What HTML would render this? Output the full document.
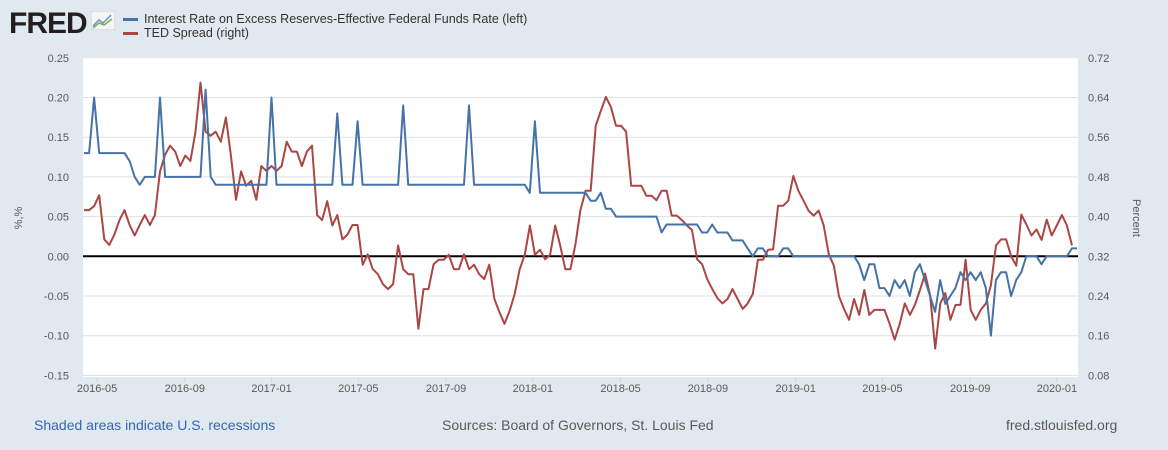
<!DOCTYPE html>
<html><head><meta charset="utf-8"><style>
body{margin:0;width:1168px;height:450px;background:#e1e9f0;font-family:"Liberation Sans",sans-serif;overflow:hidden;position:relative}
.t{position:absolute;color:#595959}
</style></head><body>
<div class="t" style="left:9px;top:7px;font-size:30px;font-weight:bold;color:#231f20;letter-spacing:-1px">FRED</div>
<svg style="position:absolute;left:91px;top:11px" width="24" height="19"><rect width="24" height="19" rx="2" fill="#f3f5f7" stroke="#ccc"/><polyline points="2,15 8,9 12,12 20,4" fill="none" stroke="#6a97c9" stroke-width="1.5"/><polyline points="2,17 8,12 13,14 21,8" fill="none" stroke="#7cb342" stroke-width="1.5"/></svg>
<div style="position:absolute;left:123px;top:12px;font-size:12.5px;color:#333"><span style="display:inline-block;width:15px;height:2.5px;background:#4572a7;vertical-align:middle;margin-right:6px"></span>Interest Rate on Excess Reserves-Effective Federal Funds Rate (left)</div>
<div style="position:absolute;left:123px;top:26px;font-size:12.5px;color:#333"><span style="display:inline-block;width:15px;height:2.5px;background:#aa4643;vertical-align:middle;margin-right:6px"></span>TED Spread (right)</div>
<svg id="chart" width="1168" height="450" style="position:absolute;left:0;top:0"></svg>
<div class="t" style="left:34px;top:417px;font-size:14px;color:#3366b2">Shaded areas indicate U.S. recessions</div>
<div class="t" style="left:442px;top:417px;font-size:14px">Sources: Board of Governors, St. Louis Fed</div>
<div class="t" style="left:1006px;top:417px;font-size:14px">fred.stlouisfed.org</div>
<script>
const xTickLabels=["2016-05","2016-09","2017-01","2017-05","2017-09","2018-01","2018-05","2018-09","2019-01","2019-05","2019-09","2020-01"];
const xTickWeeks=[2.6,20.1,37.4,54.7,72.2,89.5,107,124.4,141.9,159.2,176.7,194];
const leftTicks=[0.25,0.20,0.15,0.10,0.05,0.00,-0.05,-0.10,-0.15];
const rightTicks=[0.72,0.64,0.56,0.48,0.40,0.32,0.24,0.16,0.08];
const ioerValues=[0.13,0.13,0.20,0.13,0.13,0.13,0.13,0.13,0.13,0.12,0.10,0.09,0.10,0.10,0.10,0.20,
0.10,0.10,0.10,0.10,0.10,0.10,0.10,0.10,0.21,0.10,
0.09,0.09,0.09,0.09,0.09,0.09,0.09,0.09,0.09,0.09,0.09,0.20,
0.09,0.09,0.09,0.09,0.09,0.09,0.09,0.09,0.09,0.09,0.09,0.09,0.18,0.09,0.09,0.09,0.17,
0.09,0.09,0.09,0.09,0.09,0.09,0.09,0.09,0.19,
0.09,0.09,0.09,0.09,0.09,0.09,0.09,0.09,0.09,0.09,0.09,0.09,0.19,
0.09,0.09,0.09,0.09,0.09,0.09,0.09,0.09,0.09,0.09,0.09,0.08,0.17,
0.08,0.08,0.08,0.08,0.08,0.08,0.08,0.08,0.08,0.08,0.07,0.07,0.08,0.06,0.06,
0.05,0.05,0.05,0.05,0.05,0.05,0.05,0.05,0.05,0.03,0.04,0.04,0.04,0.04,0.04,0.04,0.04,
0.03,0.03,0.04,0.03,0.03,0.03,0.02,0.02,0.02,0.01,0.00,0.01,0.01,0.00,0.00,0.00,0.01,0.01,0.00,
0.00,0.00,0.00,0.00,0.00,0.00,0.00,0.00,0.00,0.00,0.00,0.00,
-0.01,-0.03,-0.01,-0.01,-0.04,-0.04,-0.05,-0.03,-0.04,-0.03,-0.05,-0.02,-0.01,-0.03,-0.05,-0.07,-0.03,-0.06,-0.05,-0.04,-0.02,-0.03,-0.02,-0.03,-0.02,-0.04,-0.10,-0.03,-0.02,-0.02,-0.05,-0.03,-0.02,0.00,0.00,0.00,-0.01,0.00,0.00,0.00,0.00,0.00,0.01,0.01];
const tedValues=[0.413,0.413,0.421,0.443,0.354,0.343,0.364,0.393,0.413,0.383,0.362,0.383,0.403,0.383,0.403,0.491,0.525,0.543,0.531,0.502,0.523,0.512,0.571,0.670,0.571,0.563,0.571,0.551,0.600,0.523,0.434,0.491,0.462,0.472,0.434,0.502,0.492,0.502,0.492,0.502,0.551,0.531,0.531,0.502,0.531,0.543,0.403,0.393,0.431,0.382,0.403,
0.354,0.364,0.383,0.383,0.303,0.324,0.294,0.284,0.264,0.254,0.264,0.342,0.294,0.284,0.284,0.174,0.254,0.254,0.304,0.313,0.313,0.323,0.294,0.294,0.324,0.294,0.303,0.284,0.274,0.303,0.234,0.207,0.184,0.210,0.244,0.294,0.323,0.382,0.323,0.333,0.314,0.323,0.382,0.341,0.294,0.294,0.345,0.414,0.452,0.452,0.583,0.613,0.641,0.621,0.583,0.583,0.571,0.462,0.462,0.462,0.442,0.442,0.433,0.452,0.452,0.402,0.402,0.393,0.382,0.373,0.314,0.304,0.274,0.254,0.236,0.225,0.234,0.254,0.234,0.214,0.225,0.244,0.313,0.313,0.333,0.334,0.422,0.422,0.432,0.482,0.452,0.432,0.412,0.402,0.412,0.382,0.324,0.301,0.240,0.214,0.192,0.234,0.202,0.252,0.202,0.212,0.212,0.212,0.184,0.152,0.184,0.225,0.202,0.222,0.252,0.285,0.242,0.134,0.225,0.246,0.192,0.222,0.222,0.313,0.212,0.192,0.212,0.225,0.262,0.342,0.354,0.354,0.320,0.301,0.404,0.384,0.362,0.374,0.353,0.394,0.362,0.382,0.403,0.382,0.342];

const NS="http://www.w3.org/2000/svg";
const svg=document.getElementById('chart');
const PL=83,PR=1078,PT=57,PB=377;
const nW=198;
function xScale(w){return 84+w*(1077-84)/nW;}
function yLeft(v){return 256.3-v*794;}
function yRight(v){return 256.3-(v-0.32)*496.25;}
function mk(tag,attrs){const e=document.createElementNS(NS,tag);for(const k in attrs)e.setAttribute(k,attrs[k]);svg.appendChild(e);return e;}

const bg=mk('rect',{x:PL,y:PT,width:PR-PL,height:PB-PT,fill:'#fff'});



leftTicks.forEach((v,i)=>{
  const y=yLeft(v);
  if(v!==0){const g=mk('line',{x1:PL,x2:PR,y1:y,y2:y,stroke:'#e1e1e1','stroke-width':1});
  
  }
  const t=mk('text',{x:69,y:y+4,'text-anchor':'end','font-size':11,fill:'#595959','font-family':'Liberation Sans, sans-serif'});
  t.textContent=v.toFixed(2);
  
  
});
rightTicks.forEach(v=>{
  const t=mk('text',{x:1088,y:yRight(v)+4,'font-size':11,fill:'#595959','font-family':'Liberation Sans, sans-serif'});
  t.textContent=v.toFixed(2);
  
  
});
xTickLabels.forEach((l,i)=>{
  const x=xScale(xTickWeeks[i]);
  const tk=mk('line',{x1:x,x2:x,y1:PB,y2:PB+5,stroke:'#ccd6eb'});
  
  
  const t=mk('text',{x:x,y:392,'text-anchor':'middle','font-size':11,fill:'#595959','font-family':'Liberation Sans, sans-serif'});
  t.textContent=l;
  
  
});
const yl=mk('text',{x:0,y:0,transform:'translate(22,218) rotate(-90)','text-anchor':'middle','font-size':11,fill:'#595959','font-family':'Liberation Sans, sans-serif'});
yl.textContent='%,%';


const yr=mk('text',{x:0,y:0,transform:'translate(1133,218) rotate(90)','text-anchor':'middle','font-size':11,fill:'#595959','font-family':'Liberation Sans, sans-serif'});
yr.textContent='Percent';



const zl=mk('line',{x1:PL,x2:PR,y1:yLeft(0),y2:yLeft(0),stroke:'#000','stroke-width':2});



const tedPts=tedValues.map((v,i)=>xScale(i*(nW-1)/(tedValues.length-1)).toFixed(1)+','+yRight(v).toFixed(1)).join(' ');
const ted=mk('polyline',{points:tedPts,fill:'none',stroke:'#aa4643','stroke-width':2,'stroke-linejoin':'round'});


const ioerPts=ioerValues.map((v,i)=>xScale(i*nW/(ioerValues.length-1)).toFixed(1)+','+yLeft(v).toFixed(1)).join(' ');
const ioer=mk('polyline',{points:ioerPts,fill:'none',stroke:'#4572a7','stroke-width':2,'stroke-linejoin':'round'});


</script>
</body></html>
